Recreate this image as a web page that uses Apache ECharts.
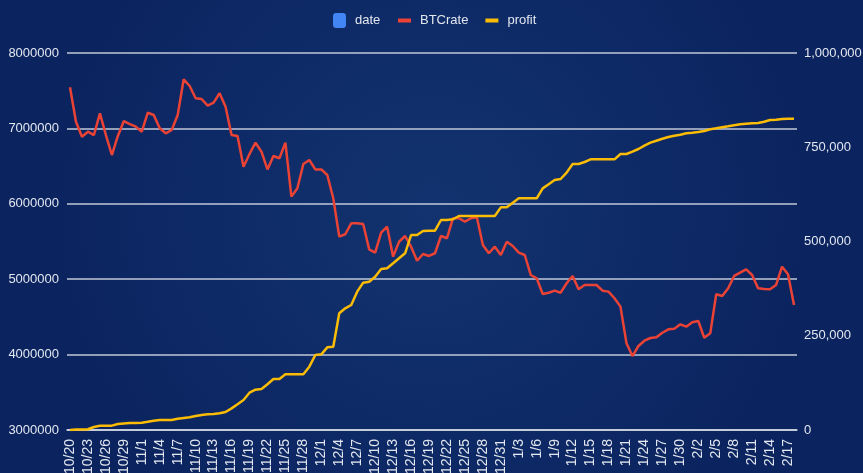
<!DOCTYPE html>
<html>
<head>
<meta charset="utf-8">
<script src="https://cdn.jsdelivr.net/npm/echarts@6/dist/echarts.min.js"></script>
<style>
html,body{margin:0;padding:0;background:#0e2a68;}
#chart{width:863px;height:473px;}
</style>
</head>
<body>
<div id="chart"></div>
<script>
const categories = [
"10/20","10/21","10/22","10/23","10/24","10/25","10/26","10/27","10/28","10/29","10/30","10/31",
"11/1","11/2","11/3","11/4","11/5","11/6","11/7","11/8","11/9","11/10","11/11","11/12","11/13","11/14","11/15","11/16","11/17","11/18","11/19","11/20","11/21","11/22","11/23","11/24","11/25","11/26","11/27","11/28","11/29","11/30",
"12/1","12/2","12/3","12/4","12/5","12/6","12/7","12/8","12/9","12/10","12/11","12/12","12/13","12/14","12/15","12/16","12/17","12/18","12/19","12/20","12/21","12/22","12/23","12/24","12/25","12/26","12/27","12/28","12/29","12/30","12/31",
"1/1","1/2","1/3","1/4","1/5","1/6","1/7","1/8","1/9","1/10","1/11","1/12","1/13","1/14","1/15","1/16","1/17","1/18","1/19","1/20","1/21","1/22","1/23","1/24","1/25","1/26","1/27","1/28","1/29","1/30","1/31",
"2/1","2/2","2/3","2/4","2/5","2/6","2/7","2/8","2/9","2/10","2/11","2/12","2/13","2/14","2/15","2/16","2/17","2/18"
];

const btcRate = [
7545000,7089000,6890000,6956000,6912000,7200000,6912000,6647000,6900000,7098000,
7058000,7023000,6956000,7208000,7178000,7001000,6935000,6979000,7178000,7651000,
7562000,7399000,7390000,7301000,7341000,7466000,7288000,6912000,6899000,6492000,
6661000,6811000,6691000,6456000,6634000,6604000,6811000,6095000,6206000,6528000,
6581000,6456000,6456000,6382000,6073000,5564000,5596000,5741000,5741000,5732000,
5396000,5352000,5617000,5697000,5299000,5497000,5573000,5431000,5245000,5334000,
5308000,5344000,5573000,5543000,5808000,5808000,5763000,5808000,5821000,5454000,
5344000,5431000,5321000,5497000,5440000,5352000,5321000,5056000,5012000,4804000,
4821000,4848000,4821000,4946000,5043000,4866000,4923000,4923000,4923000,4848000,
4835000,4747000,4636000,4150000,3981000,4114000,4184000,4220000,4229000,4290000,
4335000,4344000,4402000,4370000,4428000,4446000,4224000,4282000,4800000,4777000,
4879000,5043000,5087000,5131000,5056000,4879000,4870000,4866000,4923000,5166000,
5065000,4658000
];

const profit = [
0,1500,1500,2000,8000,11500,11500,11500,16000,17500,
18600,18600,19500,22000,24700,26500,26500,26500,30000,31800,
33600,37100,39800,41500,42400,44200,47700,57400,68100,79600,
99000,107000,108800,121200,135300,135300,147700,147700,147700,147700,
168000,198900,200700,219300,221000,309500,322800,331600,366900,390800,
393400,406700,427000,428900,442100,455400,468700,517200,517200,527800,
528700,528700,557000,557000,559000,567600,567600,567600,567600,567600,
567600,567600,590600,590600,603000,614600,614600,614600,614600,641000,
651700,663100,665800,682600,705600,705600,710900,718000,718000,718000,
718000,718000,732100,732100,738300,745400,754200,762100,767400,772700,
777200,780700,783300,787000,788600,790500,793100,797600,800200,802900,
805500,808200,810900,812500,813400,814300,817800,822300,823100,824900,
825800,825800
];

const dateSeries = [];
const leftTicks = {min: 3000000, max: 8000000, interval: 1000000};
const rightTicks = {min: 0, max: 1000000, interval: 250000};

const chart = echarts.init(document.getElementById('chart'), null, {renderer: 'canvas'});
const labelColor = '#e2e6ee';
const fontFam = 'Liberation Sans, Arial, sans-serif';
chart.setOption({
  backgroundColor: {
    type: 'radial', x: 0.5, y: 0.45, r: 0.8,
    colorStops: [{offset: 0, color: '#12336f'}, {offset: 1, color: '#0b2460'}]
  },
  color: ['#4285f4', '#ea4335', '#fbbc05'],
  animation: false,
  legend: [
    {
      left: 328, top: 8,
      itemWidth: 13, itemHeight: 15,
      textStyle: {color: labelColor, fontSize: 13, fontFamily: fontFam, padding: [0,0,0,4]},
      data: [{name: 'date', icon: 'roundRect'}]
    },
    {
      left: 393, top: 8,
      itemWidth: 13, itemHeight: 4, itemGap: 17,
      textStyle: {color: labelColor, fontSize: 13, fontFamily: fontFam, padding: [0,0,0,4], lineHeight: 15},
      data: [{name: 'BTCrate', icon: 'rect'}, {name: 'profit', icon: 'rect'}]
    }
  ],
  grid: {left: 67, right: 66, top: 53, bottom: 43, containLabel: false, outerBoundsMode: 'none'},
  xAxis: {
    type: 'category',
    data: categories,
    boundaryGap: true,
    axisLine: {show: true, lineStyle: {color: 'rgba(225,228,235,0.85)', width: 1.5}},
    axisTick: {show: false},
    axisLabel: {
      interval: 2, rotate: 90, margin: 9,
      color: labelColor, fontSize: 14, fontFamily: fontFam
    },
    splitLine: {show: false}
  },
  yAxis: [
    {
      type: 'value',
      min: leftTicks.min, max: leftTicks.max, interval: leftTicks.interval,
      axisLine: {show: false}, axisTick: {show: false},
      axisLabel: {color: labelColor, fontSize: 13, margin: 8, fontFamily: fontFam,
        formatter: v => String(v)},
      splitLine: {show: true, lineStyle: {color: 'rgba(225,228,235,0.85)', width: 1.5}}
    },
    {
      type: 'value',
      min: rightTicks.min, max: rightTicks.max, interval: rightTicks.interval,
      axisLine: {show: false}, axisTick: {show: false},
      axisLabel: {
        color: labelColor, fontSize: 13, margin: 7, fontFamily: fontFam,
        formatter: v => v.toLocaleString('en-US')
      },
      splitLine: {show: false}
    }
  ],
  series: [
    {name: 'date', type: 'bar', data: dateSeries, itemStyle: {borderRadius: 3}},
    {name: 'BTCrate', type: 'line', yAxisIndex: 0, data: btcRate, symbol: 'none',
     lineStyle: {width: 2.5, color: '#ea4335'}, itemStyle: {color: '#ea4335'}},
    {name: 'profit', type: 'line', yAxisIndex: 1, data: profit, symbol: 'none',
     lineStyle: {width: 2.5, color: '#fbbc05'}, itemStyle: {color: '#fbbc05'}}
  ]
});
</script>
</body>
</html>
